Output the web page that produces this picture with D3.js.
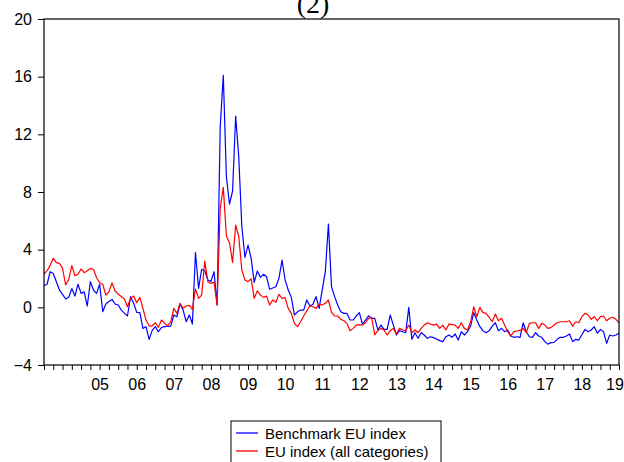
<!DOCTYPE html>
<html>
<head>
<meta charset="utf-8">
<script src="https://cdn.jsdelivr.net/npm/d3@7"></script>
<style>
  html, body { margin: 0; padding: 0; background: #fff; }
  svg { display: block; }
</style>
</head>
<body>
<svg id="chart" width="624" height="462"></svg>
<script>
// Monthly observations, January 2004 onwards
const startYear = 2004;

const benchmarkEU = [
  1.5, 1.6, 2.47, 2.35, 1.78, 1.2, 0.9, 0.58, 0.7, 1.3,
  0.78, 1.6, 0.97, 1.08, 0.09, 1.78, 1.2, 0.97, 1.6, -0.3,
  0.23, 0.4, 0.55, 0.23, 0.16, -0.19, -0.4, -0.6, 0.74, 0.28,
  -0.35, -0.37, -1.46, -1.34, -2.22, -1.6, -1.34, -1.69, -1.4, -1.34,
  -1.32, -1.3, -0.53, -0.65, 0.23, -0.19, -1.0, -0.53, -1.16, 3.79,
  1.32, 2.64, 2.54, 1.9, 1.8, 2.47, 0.16, 12.5, 16.1, 9.06,
  7.16, 8.07, 13.27, 10.44, 5.59, 3.47, 4.32, 3.4, 1.73, 2.52,
  2.08, 2.29, 2.12, 1.25, 1.34, 1.43, 2.01, 3.28, 1.89, 1.2,
  0.69, -0.53, -0.31, -0.19, -0.19, 0.51, 0.09, 0.21, 0.74, -0.07,
  1.2, 2.47, 5.78, 1.43, 0.74, 0.16, -0.3, -0.42, -0.42, -0.88,
  -0.88, -0.6, -0.37, -1.16, -0.88, -0.6, -0.76, -0.76, -1.57, -1.23,
  -1.53, -1.53, -0.53, -1.23, -1.92, -1.62, -1.69, -1.76, 0.0, -2.22,
  -1.76, -2.15, -1.76, -1.92, -2.15, -2.04, -2.1, -2.2, -2.31, -2.38,
  -2.04, -1.92, -2.08, -1.85, -2.27, -1.69, -1.92, -1.69, -1.3, -0.37,
  -0.88, -1.34, -1.62, -1.76, -1.62, -1.3, -1.07, -1.62, -1.46, -1.69,
  -1.57, -1.99, -2.08, -2.04, -2.08, -1.07, -1.69, -2.04, -2.08, -1.76,
  -1.99, -2.08, -2.38, -2.55, -2.45, -2.43, -2.22, -2.08, -2.08, -1.99,
  -1.85, -2.38, -2.22, -2.27, -1.9, -1.53, -1.69, -1.57, -1.34, -1.8,
  -1.53, -1.69, -2.5, -1.92, -1.99, -1.92, -1.8
];

const allCategoriesEU = [
  2.3, 2.54, 2.93, 3.4, 3.1, 3.05, 2.7, 1.55, 1.94, 2.89,
  2.2, 2.29, 2.66, 2.4, 2.54, 2.7, 2.64, 2.05, 1.7, 1.6,
  0.85, 1.08, 1.7, 1.13, 0.92, 0.75, 0.58, 0.04, 0.62, 0.78,
  0.32, 0.69, -0.07, -0.88, -1.28, -1.28, -1.07, -1.39, -0.88, -1.1,
  -1.28, -1.0, -0.07, -0.42, 0.28, -0.07, 0.09, 0.14, -0.14, 1.27,
  0.62, 0.85, 3.21, 1.78, 1.66, 1.75, 0.16, 6.87, 8.32, 4.94,
  4.48, 3.12, 5.71, 4.9, 2.59, 1.89, 1.78, 1.98, 0.62, 1.15,
  0.85, 0.69, 0.78, 0.16, 0.51, 0.35, 0.9, 0.62, 0.67, -0.07,
  -0.42, -1.11, -1.34, -1.0, -0.6, -0.24, 0.09, 0.04, -0.07, 0.21,
  0.16, 0.28, 0.51, -0.35, -0.6, -0.6, -0.83, -0.93, -1.11, -1.62,
  -1.46, -1.23, -1.2, -1.23, -1.07, -0.76, -0.72, -1.92, -1.6, -1.46,
  -1.57, -1.92, -1.62, -1.46, -1.85, -1.46, -1.57, -1.62, -1.23, -1.76,
  -1.57, -1.76, -1.46, -1.23, -1.07, -1.16, -1.23, -1.16, -1.46, -1.23,
  -1.57, -1.16, -1.2, -1.23, -1.46, -1.07, -1.46, -1.57, -1.0, 0.04,
  -0.65, 0.0, -0.37, -0.42, -0.69, -1.0, -0.46, -0.93, -0.76, -1.23,
  -1.69, -1.99, -1.69, -1.64, -1.6, -1.46, -1.76, -1.11, -1.07, -1.07,
  -1.46, -1.11, -1.23, -1.46, -1.41, -1.23, -1.07, -1.0, -1.0, -1.0,
  -0.93, -1.3, -1.0, -1.07, -0.65, -0.42, -0.53, -0.83, -0.65, -0.93,
  -0.65, -0.6, -0.93, -0.76, -0.69, -0.83, -1.07
];

const yTicks = [-4, 0, 4, 8, 12, 16, 20];
const yearLabels = ["05", "06", "07", "08", "09", "10", "11", "12", "13", "14", "15", "16", "17", "18", "19"];
const seriesNames = ["Benchmark EU index", "EU index (all categories)"];
const seriesColors = ["#0000ff", "#ff0000"];
const panelTitle = "(2)";

const svg = d3.select("#chart");
const plotL = 44, plotR = 619, plotT = 19, plotB = 365;
const n = benchmarkEU.length;

const x = d3.scaleLinear().domain([0, n - 1]).range([plotL, plotR]);
const y = d3.scaleLinear().domain([-4, 20]).range([plotB, plotT]);

// panel title, its upper part runs off the top edge
svg.append("text")
  .attr("x", 313).attr("y", 13)
  .attr("text-anchor", "middle")
  .attr("font-family", "'Liberation Serif', 'Times New Roman', serif")
  .attr("font-size", 28)
  .attr("fill", "#000")
  .text(panelTitle);

// series lines
const line = d3.line().x((d, i) => x(i)).y(d => y(d));
[benchmarkEU, allCategoriesEU].forEach((s, k) => {
  svg.append("path")
    .datum(s)
    .attr("d", line)
    .attr("fill", "none")
    .attr("stroke", seriesColors[k])
    .attr("stroke-width", 1.2)
    .attr("stroke-linejoin", "round");
});

// frame
svg.append("rect")
  .attr("x", plotL).attr("y", plotT)
  .attr("width", plotR - plotL).attr("height", plotB - plotT)
  .attr("fill", "none").attr("stroke", "#000").attr("stroke-width", 1.2);

const font = "'Liberation Sans', Arial, sans-serif";

// y axis
const yAxis = svg.append("g")
  .attr("transform", `translate(${plotL},0)`)
  .call(d3.axisLeft(y).tickValues(yTicks).tickSize(6).tickPadding(6).tickFormat(d3.format("d")));
yAxis.select(".domain").remove();
yAxis.selectAll("line").attr("stroke", "#000");
yAxis.selectAll("text").attr("font-family", font).attr("font-size", 16).attr("fill", "#000");

// quarterly ticks on the time axis
const quarterIdx = d3.range(0, n, 3);
const xTicks = svg.append("g")
  .attr("transform", `translate(0,${plotB})`)
  .call(d3.axisBottom(x).tickValues(quarterIdx).tickSize(5).tickFormat(""));
xTicks.select(".domain").remove();
xTicks.selectAll("line").attr("stroke", "#000");

// year labels centred within each year
const yearMid = yearLabels.map((lab, k) => 12 * (k + 1) + 5.5);
const xLabels = svg.append("g")
  .attr("transform", `translate(0,${plotB})`)
  .call(d3.axisBottom(x).tickValues(yearMid).tickSize(0).tickPadding(14)
    .tickFormat((d, k) => yearLabels[k]));
xLabels.select(".domain").remove();
xLabels.selectAll("text").attr("font-family", font).attr("font-size", 16).attr("fill", "#000");
xLabels.selectAll(".tick").attr("transform", d => `translate(${Math.min(x(d) + 2, 615)},0)`);

// legend
const lg = svg.append("g");
lg.append("rect")
  .attr("x", 231).attr("y", 421).attr("width", 210).attr("height", 50)
  .attr("fill", "#fff").attr("stroke", "#000").attr("stroke-width", 1);
seriesNames.forEach((name, k) => {
  const ly = 433 + k * 18;
  lg.append("line")
    .attr("x1", 236).attr("x2", 258).attr("y1", ly).attr("y2", ly)
    .attr("stroke", seriesColors[k]).attr("stroke-width", 1.3);
  lg.append("text")
    .attr("x", 265).attr("y", ly + 5.5)
    .attr("font-family", font).attr("font-size", 15)
    .attr("fill", "#000")
    .text(name);
});
</script>
</body>
</html>
